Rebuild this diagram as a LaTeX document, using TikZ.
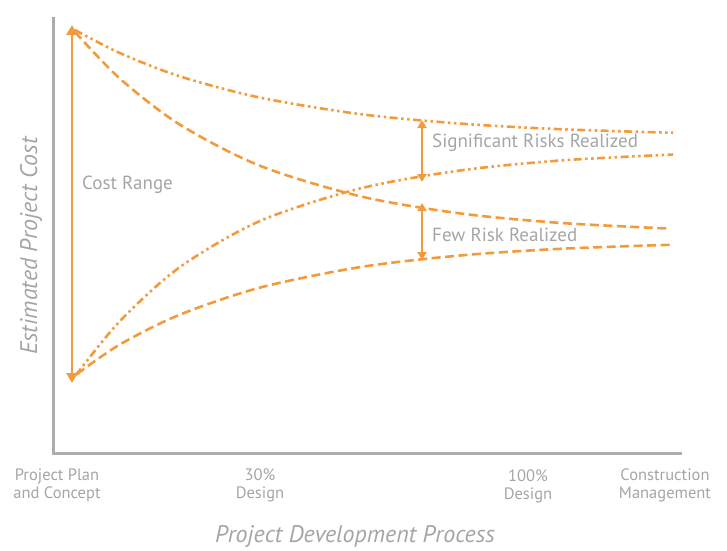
\documentclass[tikz,border=0pt]{standalone}
\usepackage{fontspec}
\setmainfont{PT Sans}
\usetikzlibrary{arrows.meta}

\definecolor{curveorange}{HTML}{F39B3A}
\definecolor{labelgray}{HTML}{A2A7A5}
\definecolor{axisgray}{HTML}{A9AEAB}

\tikzset{
  axisline/.style={axisgray, line width=3pt},
  curve/.style={curveorange, line width=2.6pt},
  riskcurve/.style={curve, dash pattern=on 8pt off 3.5pt on 2.5pt off 3.5pt on 2.5pt off 3.5pt},
  basecurve/.style={curve, dash pattern=on 9pt off 4.5pt},
  rangearrow/.style={curveorange, line width=2.6pt,
    {Triangle[width=11pt,length=10pt]}-{Triangle[width=11pt,length=10pt]}},
  gaparrow/.style={curveorange, line width=2.6pt,
    {Triangle[width=9pt,length=8pt]}-{Triangle[width=9pt,length=8pt]}},
  note/.style={labelgray, font=\fontsize{19}{22}\selectfont, anchor=west, inner sep=0pt},
  stagelabel/.style={labelgray, font=\fontsize{16.5}{18}\selectfont, align=center, inner sep=0pt},
  axistitle/.style={labelgray, font=\fontsize{24}{28}\selectfont\itshape, inner sep=0pt},
}

\begin{document}
\begin{tikzpicture}[x=1pt, y=-1pt]
  \useasboundingbox (0,0) rectangle (727,550);

  % axes
  \coordinate (ytop) at (53,17);
  \coordinate (origin) at (53,453);
  \coordinate (xend) at (682,453);
  \draw[axisline] (ytop) -- (origin) -- (xend);

  % curves
  \draw[riskcurve] plot[smooth] coordinates {
      (75,30) (120,53.1) (180,76.4) (260,97.6) (360,114.1)
      (460,123.6) (560,129.2) (673,132.8)};
  \draw[basecurve] plot[smooth] coordinates {
      (75,32) (120,78.7) (180,124.7) (260,165.8) (360,196.2)
      (460,213.4) (560,222.9) (670,228.6)};
  \draw[riskcurve] plot[smooth] coordinates {
      (76,375) (120,321) (180,267) (260,221) (360,188.5)
      (460,170.5) (560,160.5) (673,154.5)};
  \draw[basecurve] plot[smooth] coordinates {
      (77,374) (120,344.4) (180,314.6) (260,287.6) (360,267.1)
      (460,255.5) (560,248.8) (670,244.8)};

  % ranges
  \coordinate (rangetop) at (72,25);
  \coordinate (rangebot) at (72,383);
  \draw[rangearrow] (rangetop) -- (rangebot);
  \coordinate (sigtop) at (422,120);
  \coordinate (sigbot) at (422,182);
  \draw[gaparrow] (sigtop) -- (sigbot);
  \coordinate (fewtop) at (422,203);
  \coordinate (fewbot) at (422,260);
  \draw[gaparrow] (fewtop) -- (fewbot);

  \node[note] (cost) at (82,185) {Cost Range};
  \node[note] (sig) at (432,143) {Significant Risks Realized};
  \node[note] (few) at (432,235) {Few Risk Realized};

  % stages
  \node[stagelabel] (plan) at (57,485) {Project Plan\\and Concept};
  \node[stagelabel] (thirty) at (260,485) {30\%\\Design};
  \node[stagelabel] (hundred) at (528,486) {100\%\\Design};
  \node[stagelabel] (build) at (665,485) {Construction\\Management};

  \node[axistitle] (xtitle) at (355,536) {Project Development Process};
  \node[axistitle, rotate=90] (ytitle) at (31,246) {Estimated Project Cost};
\end{tikzpicture}
\end{document}
